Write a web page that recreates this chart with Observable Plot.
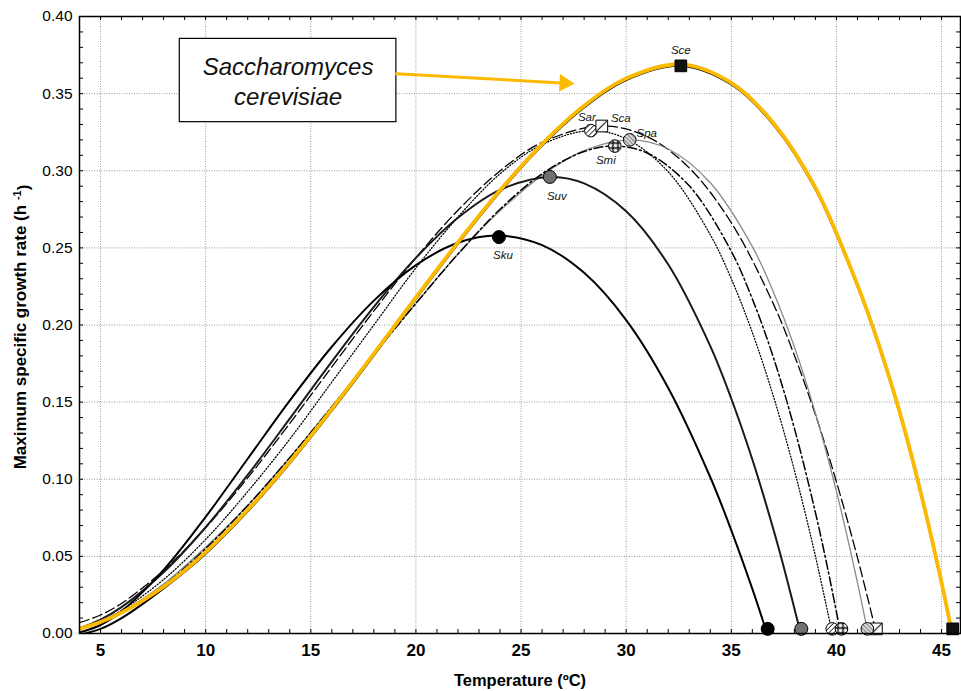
<!DOCTYPE html>
<html><head><meta charset="utf-8">
<script src="https://cdn.jsdelivr.net/npm/d3@7"></script>
<script src="https://cdn.jsdelivr.net/npm/@observablehq/plot@0.6"></script>
<style>html,body{margin:0;padding:0;background:#fff;}</style>
</head><body><div id="chart"></div>
<script>
// ---- data ----
const species = ["Sce","Sar","Sca","Spa","Smi","Suv","Sku"];

const tSce  = [4,5,6,8,10,12,14,16,18,20,22,24,26,28,30,32.6,35,37,39,41,42,43,44,45,45.5];
const muSce = [0.003,0.0074,0.0135,0.0303,0.0528,0.0802,0.1114,0.1455,0.1814,0.2179,0.2536,0.2873,0.3173,0.3421,0.3598,0.369,0.357,0.331,0.289,0.226,0.188,0.144,0.092,0.033,0];
const muSceBlack = [0.0003,0.004,0.011,0.0303,0.0528,0.0802,0.1114,0.1455,0.1814,0.2179,0.2536,0.2873,0.3173,0.3421,0.3598,0.369,0.357,0.331,0.289,0.226,0.188,0.144,0.092,0.033,0];

const tSar  = [4,5,6,8,10,12,14,16,18,20,22,24,26,28.3,30,32,34,35,36,37,38,39,39.8];
const muSar = [0.003,0.008,0.015,0.035,0.061,0.092,0.126,0.163,0.2,0.237,0.27,0.298,0.317,0.326,0.3207,0.2993,0.2585,0.2299,0.1951,0.1539,0.1058,0.0502,0];

const tSca  = [4,5,6,8,10,12,14,16,18,20,22,24,26,28.85,31,33,35,37,38,39,40,41,41.9];
const muSca = [0.007,0.012,0.0195,0.041,0.0686,0.1009,0.1362,0.1728,0.2091,0.2436,0.2744,0.2999,0.3184,0.329,0.3221,0.3018,0.2663,0.2137,0.1803,0.1419,0.0983,0.0492,0];

const tSpa  = [4,5,6,8,10,12,14,16,18,20,22,24,26,28,30.15,32,34,36,37,38,39,40,41,41.5];
const muSpa = [0.004,0.008,0.014,0.032,0.056,0.083,0.114,0.147,0.181,0.214,0.246,0.274,0.297,0.313,0.32,0.3141,0.2922,0.2508,0.2214,0.1857,0.1428,0.0921,0.033,0];

const tSmi  = [4,5,6,8,10,12,14,16,18,20,22,24,26,28,29.45,31,33,35,36,37,38,39,39.6,40.2];
const muSmi = [0.003,0.007,0.013,0.031,0.055,0.083,0.114,0.147,0.181,0.214,0.246,0.275,0.298,0.3125,0.316,0.3115,0.2902,0.2477,0.2169,0.179,0.133,0.0784,0.041,0];

const tSuv  = [4,5,6,8,10,12,14,16,18,20,22,24,26.4,28,30,32,34,35,36,37,37.5,38.3];
const muSuv = [0.0033,0.009,0.0171,0.0397,0.0689,0.1028,0.1393,0.1763,0.2118,0.2435,0.2695,0.2876,0.296,0.2918,0.2737,0.2392,0.1863,0.1522,0.1128,0.0676,0.0428,0];

const tSku  = [4,5,6,8,10,12,14,16,18,20,22,23.9,26,28,30,32,34,35,36,36.7];
const muSku = [0.0007,0.0055,0.0144,0.0412,0.0756,0.1133,0.151,0.1859,0.2158,0.2388,0.2533,0.258,0.2518,0.2338,0.2032,0.1592,0.1013,0.0669,0.0289,0];

// optimum (peak) markers and maximum-temperature markers, in species order
const peakT  = [32.6,28.32,28.84,30.17,29.46,26.37,23.95];
const peakMu = [0.368,0.326,0.329,0.320,0.316,0.296,0.257];
const endT   = [45.53,39.8,41.9,41.47,40.24,38.33,36.73];
const endMu  = [0.003,0.003,0.003,0.003,0.003,0.003,0.003];

const xTicks = [5,10,15,20,25,30,35,40,45];
const yTicks = [0,0.05,0.10,0.15,0.20,0.25,0.30,0.35,0.40];
const xMinor = d3.range(5,46);
const yMinor = d3.range(1,40).map(i => i/100);

const xTitle = "Temperature (ºC)";
const yTitle = "Maximum specific growth rate (h -1)";
const boxText = "Saccharomyces\ncerevisiae";

// ---- tables built from the arrays ----
const series = [
  ["Sce", tSce, muSceBlack], ["Sar", tSar, muSar], ["Sca", tSca, muSca], ["Spa", tSpa, muSpa],
  ["Smi", tSmi, muSmi], ["Suv", tSuv, muSuv], ["Sku", tSku, muSku]
];
const curveRows = series.flatMap(([sp, ts, ms]) => ts.map((t, i) => ({sp, t, mu: ms[i]})));
const yellowRows = tSce.map((t, i) => ({t, mu: muSce[i]}));
const markerRows = species.flatMap((sp, i) => [
  {sp, t: peakT[i], mu: peakMu[i], kind: "peak"},
  {sp, t: endT[i], mu: endMu[i], kind: "end"}
]);

const lineStyle = {
  Sce: {stroke: "black", strokeWidth: 2, dy: 1.6},
  Sku: {stroke: "black", strokeWidth: 2},
  Suv: {stroke: "#1a1a1a", strokeWidth: 2},
  Sar: {stroke: "black", strokeWidth: 1.3, strokeDasharray: "1,2"},
  Smi: {stroke: "black", strokeWidth: 1.5, strokeDasharray: "9,3,2,3"},
  Sca: {stroke: "black", strokeWidth: 1.3, strokeDasharray: "10,4"},
  Spa: {stroke: "#8a8a8a", strokeWidth: 1.3}
};
const markerStyle = {
  Sce: {symbol: "square", r: 6.6, fill: "#111"},
  Sar: {symbol: "circle", r: 6.3, fill: "url(#pSar)"},
  Sca: {symbol: "square", r: 6.6, fill: "url(#pSca)"},
  Spa: {symbol: "circle", r: 6.3, fill: "url(#pSpa)"},
  Smi: {symbol: "circle", r: 6.3, fill: "url(#pSmi)"},
  Suv: {symbol: "circle", r: 6.5, fill: "#707070"},
  Sku: {symbol: "circle", r: 6.5, fill: "#000"}
};
const labelOffset = {
  Sce: [0, -16], Sar: [-4, -13], Sca: [19, -8], Spa: [17, -7],
  Smi: [-9, 14], Suv: [7, 19], Sku: [4, 18]
};

const yellow = "#FBB900";
const annotBox = [{x1: 8.77, x2: 19.07, y1: 0.3315, y2: 0.3855, tx: 13.92, ty: 0.3585}];
const arrowLine = [{t: 19.07, mu: 0.3629}, {t: 26.9, mu: 0.3569}];
const arrowHead = [{t: 27.07, mu: 0.3568}];

const gridStyle = {stroke: "#9a9a9a", strokeOpacity: 1, strokeWidth: 1, strokeDasharray: "1,1.5"};

const chart = Plot.plot({
  width: 961, height: 691,
  marginLeft: 79, marginRight: 1, marginTop: 16, marginBottom: 58,
  x: {domain: [4, 45.9]},
  y: {domain: [0, 0.4]},
  style: {fontFamily: "'Liberation Sans', Arial, sans-serif", background: "white", color: "black"},
  marks: [
    Plot.gridX(xTicks, gridStyle),
    Plot.gridY(yTicks.filter(v => v > 0 && v < 0.4), gridStyle),
    Plot.tickX(xMinor, {x: d => d, insetTop: 613, stroke: "black"}),
    Plot.tickX(xMinor, {x: d => d, insetBottom: 613, stroke: "black"}),
    Plot.tickY(yMinor, {y: d => d, insetRight: 877, stroke: "black"}),
    Plot.tickY(yMinor, {y: d => d, insetLeft: 877, stroke: "black"}),
    ...species.map(sp => Plot.line(curveRows.filter(d => d.sp === sp), {
      x: "t", y: "mu", curve: "catmull-rom", clip: true, ...lineStyle[sp]
    })),
    Plot.line(yellowRows, {x: "t", y: "mu", curve: "catmull-rom", stroke: yellow, strokeWidth: 3.8, clip: true}),
    ...species.map(sp => Plot.dot(markerRows.filter(d => d.sp === sp), {
      x: "t", y: "mu", stroke: "#000", strokeWidth: 1, ...markerStyle[sp]
    })),
    ...species.map(sp => Plot.text(markerRows.filter(d => d.sp === sp && d.kind === "peak"), {
      x: "t", y: "mu", text: "sp", dx: labelOffset[sp][0], dy: labelOffset[sp][1],
      fontSize: 11.5, fontStyle: "italic", fill: "#111"
    })),
    Plot.rect(annotBox, {x1: "x1", x2: "x2", y1: "y1", y2: "y2", fill: "white", stroke: "black", strokeWidth: 1.2}),
    Plot.text(annotBox, {x: "tx", y: "ty", text: () => boxText, fontSize: 24, fontStyle: "italic", lineHeight: 1.25, fill: "#111"}),
    Plot.line(arrowLine, {x: "t", y: "mu", stroke: yellow, strokeWidth: 3}),
    Plot.dot(arrowHead, {x: "t", y: "mu", symbol: "triangle", r: 6.5, rotate: 93.2, fill: yellow, stroke: "none"}),
    Plot.frame({stroke: "black", strokeWidth: 1.5}),
    Plot.axisX(xTicks, {tickSize: 0, tickPadding: 10, fontSize: 17, fontWeight: "bold", label: null}),
    Plot.axisY(yTicks, {tickSize: 0, tickPadding: 7, fontSize: 15.5, tickFormat: d3.format(".2f"), label: null}),
    Plot.text([xTitle], {frameAnchor: "bottom", textAnchor: "middle", lineAnchor: "middle", dy: 47, fontSize: 16.5, fontWeight: "bold"}),
    Plot.text([yTitle], {frameAnchor: "left", textAnchor: "middle", lineAnchor: "middle", rotate: -90, dx: -59, dy: 2, fontSize: 17, fontWeight: "bold"})
  ]
});

// pattern fills for the hatched markers
const defs = d3.select(chart).insert("defs", ":first-child");
defs.html(`
<pattern id="pSar" patternUnits="userSpaceOnUse" width="3.5" height="3.5" patternTransform="rotate(45)"><rect width="3.5" height="3.5" fill="white"/><line x1="0" y1="0" x2="0" y2="3.5" stroke="black" stroke-width="1.5"/></pattern>
<pattern id="pSmi" patternUnits="userSpaceOnUse" width="5" height="5"><rect width="5" height="5" fill="white"/><path d="M0 2.5H5M2.5 0V5" stroke="black" stroke-width="1.4"/></pattern>
<pattern id="pSpa" patternUnits="userSpaceOnUse" width="3" height="3" patternTransform="rotate(-45)"><rect width="3" height="3" fill="#d8d8d8"/><line x1="0" y1="0" x2="0" y2="3" stroke="#555" stroke-width="1.3"/></pattern>
<pattern id="pSca" patternUnits="objectBoundingBox" patternContentUnits="objectBoundingBox" width="1" height="1"><rect width="1" height="1" fill="white"/><path d="M0 1L1 0" stroke="black" stroke-width="0.09"/></pattern>
`);

// superscript for the y title
d3.select(chart).selectAll("text").filter(function() { return this.textContent === yTitle; }).each(function() {
  const t = d3.select(this);
  t.text(null);
  t.append("tspan").text("Maximum specific growth rate (h ");
  t.append("tspan").attr("dy", "-0.45em").attr("font-size", "11").text("-1");
  t.append("tspan").attr("dy", "0.45em").text(")");
});

document.getElementById("chart").appendChild(chart);
</script></body></html>
